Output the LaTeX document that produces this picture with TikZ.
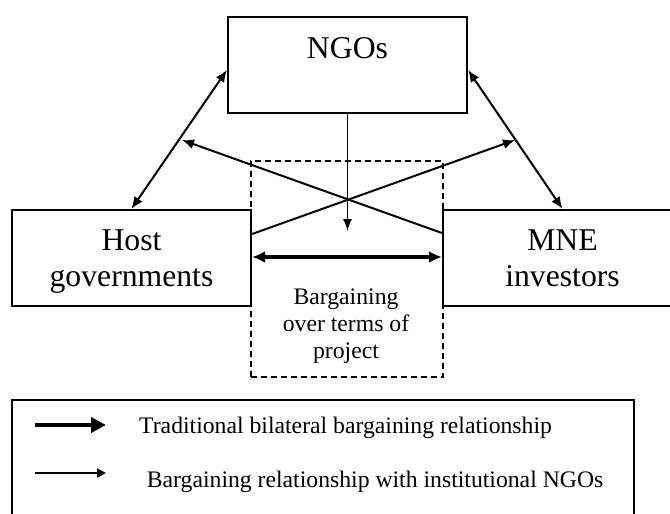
\documentclass[tikz,border=0pt]{standalone}
\usepackage{fontspec}
\setmainfont{Liberation Serif}
\usetikzlibrary{arrows.meta,calc}

\begin{document}
\begin{tikzpicture}[x=1pt,y=-1pt,
  box/.style={draw, line width=2.2pt, minimum width=239pt, minimum height=96pt, inner sep=0pt},
  zone/.style={draw, dashed, dash pattern=on 6pt off 4pt, line width=2pt,
               minimum width=192pt, minimum height=216pt, inner sep=0pt},
  bigtext/.style={font=\fontsize{31.7}{36.7}\selectfont, align=center, inner sep=0pt},
  midtext/.style={font=\fontsize{23.7}{27}\selectfont, align=center, inner sep=0pt},
  rel/.style={line width=2pt, -{Latex[length=12pt,width=10pt]}},
  relboth/.style={line width=2pt, {Latex[length=12pt,width=10pt]}-{Latex[length=12pt,width=10pt]}},
  feed/.style={line width=1.4pt, -{Latex[length=12pt,width=9pt]}},
  bilateral/.style={line width=4pt, {Latex[length=13pt,width=12pt]}-{Latex[length=13pt,width=12pt]}},
  legendbox/.style={draw, line width=1.8pt, minimum width=622pt, minimum height=140pt, inner sep=0pt}
]
\useasboundingbox (0,0) rectangle (670,514);
\clip (0,0) rectangle (670,514);

% bargaining zone between the two parties
\node[zone] (zone) at (347,269) {};
\node[midtext, anchor=base] (zonetext) at (346,358.3) {Bargaining\\over terms of\\project};

% the three actors
\node[box] (ngo) at (347.5,65) {};
\node[bigtext, anchor=base] (ngotext) at (347.5,58) {NGOs};
\node[box] (host) at (131.5,258) {};
\node[bigtext, anchor=base] (hosttext) at (131.5,286.7) {Host\\governments};
\node[box] (mne) at (562.5,258) {};
\node[bigtext, anchor=base] (mnetext) at (562.5,286.7) {MNE\\investors};

% free ends of the NGO influence arrows
\coordinate (tipL) at (182,140);
\coordinate (tipR) at (515,140);
\coordinate (ngoend) at (347.5,231);

% NGO relationships with each party
\draw[relboth] ($(ngo.west)+(0,5)$) -- (host.north);
\draw[relboth] ($(ngo.east)+(0,5)$) -- (mne.north);
\draw[rel] ($(mne.west)+(0,-25)$) -- (tipL);
\draw[rel] ($(host.east)+(0,-24)$) -- (tipR);
\draw[feed] (ngo.south) -- (ngoend);

% traditional bilateral bargaining
\draw[bilateral] ($(host.east)+(0,-1)$) -- ($(mne.west)+(0,-1)$);

% key
\node[legendbox] (legend) at (323,470) {};
\coordinate (k1s) at (35,425);
\coordinate (k1e) at (106,425);
\coordinate (k2s) at (35,473);
\coordinate (k2e) at (106,473);
\draw[line width=4pt, -{Triangle[length=15pt,width=15pt]}] (k1s) -- (k1e);
\draw[line width=2pt, -{Triangle[length=9pt,width=9pt]}] (k2s) -- (k2e);
\node[midtext, anchor=base west] (k1text) at (139,433) {Traditional bilateral bargaining relationship};
\node[midtext, anchor=base west] (k2text) at (146.7,487) {Bargaining relationship with institutional NGOs};
\end{tikzpicture}
\end{document}
